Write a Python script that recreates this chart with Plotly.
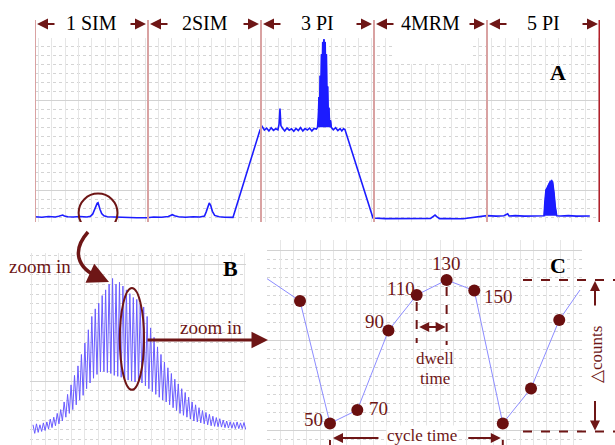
import plotly.graph_objects as go

W, H = 615, 445
def PX(x): return x / W
def PY(y): return 1 - y / H

DARK = "#6e1616"
BLUE = "#1c1cff"
SERIF = "Liberation Serif, Times New Roman, serif"

# ---------------- Panel A : full run (time units, counts) ----------------
A_labels = ["1 SIM", "2SIM", "3 PI", "4MRM", "5 PI"]
A_bounds = [0, 10, 20, 30, 40, 50]

A1_x = [0, 0.6, 1.2, 1.8, 2.1, 2.3, 2.45, 2.6, 2.9, 3.4, 4.0, 4.6, 4.9, 5.1, 5.25, 5.4, 5.5,
        5.58, 5.66, 5.75, 5.9, 6.1, 6.4, 6.9, 7.6, 8.3, 9.0, 9.91]
A1_y = [0.8, 0.5, 0.9, 0.6, 1.0, 1.4, 1.7, 1.2, 0.8, 0.6, 0.9, 0.6, 1.0, 2.2, 4.5, 7.0, 8.3,
        8.6, 7.4, 5.0, 2.6, 1.3, 0.8, 0.6, 0.4, 0.3, 0.2, 0.2]

A2_x = [10.5, 11.2, 11.8, 12.0, 12.15, 12.35, 12.7, 13.3, 14.0, 14.6, 15.0, 15.15, 15.3, 15.42,
        15.55, 15.7, 15.9, 16.3, 16.8, 17.52, 19.91]
A2_y = [0.6, 0.5, 0.9, 1.5, 1.9, 1.3, 0.8, 0.5, 0.8, 0.6, 1.2, 3.5, 6.5, 8.5, 7.0, 3.8, 1.5, 0.8,
        0.5, 0.4, 49.5]

A3_x = [20.1, 20.3, 20.5, 20.7, 20.9, 21.1, 21.3, 21.5, 21.6, 21.68, 21.76, 21.9, 22.1, 22.3,
        22.5, 22.7, 22.9, 23.1, 23.3, 23.5, 23.7, 23.9, 24.1, 24.3, 24.5, 24.7, 24.9]
A3_y = [51.5, 49.5, 50.5, 49.0, 50.8, 49.3, 50.2, 49.6, 53, 61.5, 52, 50.5, 49.0, 50.6,
        49.4, 50.2, 48.8, 50.4, 49.2, 50.8, 49.0, 50.3, 49.5, 50.6, 49.0, 50.4, 50.0]
A3_peak_x = [25.0, 25.07, 25.13, 25.18, 25.24, 25.29, 25.35, 25.4, 25.46, 25.51, 25.57, 25.62,
             25.68, 25.73, 25.79, 25.84, 25.9, 25.95, 26.01, 26.07, 26.15, 26.22]
A3_peak_y = [51, 56, 68, 60, 80, 66, 92, 75, 99, 82, 100.5, 85,
             99, 78, 92, 66, 74, 58, 62, 53, 55, 51]
A3_tail_x = [26.4, 26.6, 26.8, 27.0, 27.15, 27.3, 27.43, 29.91]
A3_tail_y = [49.6, 50.8, 49.2, 50.3, 49.0, 50.2, 49.8, 0.0]

A4_x = [31.0, 32.5, 34.0, 35.0, 35.25, 35.4, 35.55, 35.8, 36.5, 37.88, 40.0]
A4_y = [-0.3, -0.2, -0.3, -0.2, 1.0, 1.7, 0.8, -0.3, -0.3, -0.4, 1.4]

A5_x = [40.8, 41.5, 41.7, 41.83, 41.95, 42.5, 43.3, 44.0, 44.6, 45.0]
A5_y = [1.1, 1.3, 2.0, 2.4, 1.2, 1.4, 1.1, 1.3, 1.2, 1.3]
A5_peak_x = [45.05, 45.12, 45.22, 45.32, 45.42, 45.52, 45.6, 45.66, 45.73, 45.81, 45.87, 45.93,
             46.04, 46.17]
A5_peak_y = [1.3, 9.0, 15.8, 17.0, 18.6, 19.2, 20.6, 20.4, 21.0, 20.0, 17.5, 14.0, 6.4, 1.3]
A5_tail_x = [46.5, 47.2, 47.9, 48.5, 49.1]
A5_tail_y = [1.2, 1.4, 1.1, 1.3, 1.2]

# ---------------- Panel B : zoomed peak (cycle index, counts) ----------------
B_peaks = [8, 8.5, 8, 9, 9.5, 11, 12, 14, 16, 20, 24, 29, 34, 39, 45, 51, 58, 65, 69, 72,
           76, 79, 82, 85, 82, 83, 81, 79, 77, 75, 74, 72, 70, 65, 59, 54, 49, 45, 41, 38,
           35, 32, 29.5, 27, 25, 22.5, 20, 18.5, 17, 15.5, 14.5, 13.5, 12.5, 11.8, 11.2, 10.5,
           10, 9.6, 9.2, 9.5, 9, 9.2]
B_troughs = [3.5, 4, 4.5, 5, 5.8, 6.5, 7.5, 8.5, 10, 12, 14, 16, 18.5, 21, 23.5, 27, 30, 32.5,
             34.5, 35.8, 36, 35.5, 35, 34, 33.5, 33, 32.5, 31.5, 31, 30.5, 30, 30, 28.5, 27,
             25.5, 24, 22.5, 21, 20, 18.5, 17, 15.5, 14, 13, 12, 11, 10, 9.5, 9, 8.5, 8, 7.5,
             7.2, 7, 6.8, 6.5, 6.3, 6.2, 6, 6, 6, 5.5]

# ---------------- Panel C : individual scans (time, counts) ----------------
C_x = [0, 1.04, 1.99, 3.07, 4.05, 5.09, 6.05, 7.04, 8.02, 9.0]
C_y = [72, 10.8, 17.5, 57.2, 75, 82.5, 77.2, 10.8, 28.3, 62.5]
C_start = (-1.16, 83.3)
C_end = (9.72, 77.5)
C_labels = ["", "50", "70", "90", "110", "130", "150", "", "", ""]
C_label_shift = [(0, 0), (-16, 4), (21, 2), (-14, 9), (-16, 7), (0, 17), (24, -6), (0, 0), (0, 0), (0, 0)]

# ---------------- build figure ----------------
fig = go.Figure()

A_x = A1_x + A2_x + A3_x + A3_peak_x + A3_tail_x + A4_x + A5_x + A5_peak_x + A5_tail_x
A_y = A1_y + A2_y + A3_y + A3_peak_y + A3_tail_y + A4_y + A5_y + A5_peak_y + A5_tail_y
fig.add_trace(go.Scatter(x=A_x, y=A_y, mode="lines", line=dict(color=BLUE, width=1.6),
                         xaxis="x", yaxis="y", hoverinfo="skip"))
for px_, py_ in [(A3_peak_x, A3_peak_y), (A5_peak_x, A5_peak_y)]:
    fig.add_trace(go.Scatter(x=px_, y=py_, mode="lines", fill="toself",
                             fillcolor=BLUE, line=dict(color=BLUE, width=1),
                             xaxis="x", yaxis="y", hoverinfo="skip"))

B_x, B_y = [], []
for i, (p, t) in enumerate(zip(B_peaks, B_troughs)):
    B_x += [i, i + 0.5]
    B_y += [p, t]
fig.add_trace(go.Scatter(x=B_x, y=B_y, mode="lines", line=dict(color="#6a5cff", width=1),
                         xaxis="x2", yaxis="y2", hoverinfo="skip"))

fig.add_trace(go.Scatter(x=[C_start[0]] + C_x + [C_end[0]], y=[C_start[1]] + C_y + [C_end[1]],
                         mode="lines", line=dict(color="#8c8cff", width=1),
                         xaxis="x3", yaxis="y3", hoverinfo="skip"))
fig.add_trace(go.Scatter(x=C_x, y=C_y, mode="markers",
                         marker=dict(color="#6a0f0f", size=12),
                         xaxis="x3", yaxis="y3", hoverinfo="skip"))

def ax_style(domain, rng, tick0, dtick, grid="#e6e6e6"):
    return dict(domain=domain, range=rng, tick0=tick0, dtick=dtick, showgrid=True,
                gridcolor=grid, gridwidth=1, showticklabels=False, ticks="",
                zeroline=False, showline=False, fixedrange=True)

def y_style(domain, rng, tick0, dtick, mdtick):
    d = ax_style(domain, rng, tick0, dtick, grid="#d2d2d2")
    d["minor"] = dict(tick0=tick0, dtick=mdtick, showgrid=True, gridcolor="#d4d4d4",
                      griddash="dot", gridwidth=1)
    return d

shapes = []
annotations = []

def text_ann(x, y, text, size=19, color=DARK, xref="paper", yref="paper", **kw):
    d = dict(x=x, y=y, xref=xref, yref=yref, text=text, showarrow=False,
             xanchor="center", yanchor="middle",
             font=dict(family=SERIF, size=size, color=color))
    d.update(kw)
    annotations.append(d)

def arrow_ann(x, y, ax, ay, xref="paper", yref="paper", width=2, size=1.0, **kw):
    d = dict(x=x, y=y, xref=xref, yref=yref, ax=ax, ay=ay, text="", showarrow=True,
             arrowhead=2, arrowsize=size, arrowwidth=width, arrowcolor=DARK, standoff=0)
    d.update(kw)
    annotations.append(d)

# Panel A boundaries
for k, b in enumerate(A_bounds):
    last = k == len(A_bounds) - 1
    shapes.append(dict(type="line", xref="x", yref="paper", x0=b, x1=b,
                       y0=PY(222), y1=PY(20),
                       line=dict(color="#b3202a" if last else "#d9a2a2", width=3 if last else 2)))
# white patch behind 4MRM label
shapes.append(dict(type="rect", xref="paper", yref="paper", x0=PX(393), x1=PX(473),
                   y0=PY(64), y1=PY(30), fillcolor="white", line=dict(width=0), layer="above"))

for k, lab in enumerate(A_labels):
    l, r = A_bounds[k], A_bounds[k + 1]
    text_ann((l + r) / 2, PY(23), lab, size=20, color="black", xref="x")
    arrow_ann(l, PY(24), 21, 0, xref="x", size=1.1, standoff=2)
    arrow_ann(r, PY(24), -19, 0, xref="x", size=1.1, standoff=2)

# circle around SIM peak
pk = A1_y.index(max(A1_y))
cx, cy = A1_x[pk], 2.9
shapes.append(dict(type="circle", xref="x", yref="y", x0=cx - 1.72, x1=cx + 1.72,
                   y0=cy - 10.9, y1=cy + 10.9, line=dict(color=DARK, width=2)))
# curved arrow to panel B
def P(x, y): return f"{PX(x)},{PY(y)}"
shapes.append(dict(type="path", xref="paper", yref="paper",
                   path=f"M {P(88,232)} C {P(72,250)} {P(76,268)} {P(100,278)}",
                   line=dict(color=DARK, width=3.5)))
arrow_ann(PX(109), PY(282), -11, -5, width=3.5, size=1.2)
text_ann(PX(40), PY(266), "zoom in")

# Panel B ellipse and arrow
shapes.append(dict(type="circle", xref="x2", yref="y2", x0=28.6 - 3.5, x1=28.6 + 3.5,
                   y0=53.2 - 26.8, y1=53.2 + 26.8, line=dict(color=DARK, width=2)))
arrow_ann(PX(268), PY(340), -122, 0, width=3, size=1.1)
text_ann(PX(211), PY(327), "zoom in")

# Panel letters
for lab, x, y in [("A", 558, 72), ("B", 230, 268), ("C", 558, 265)]:
    text_ann(PX(x), PY(y), f"<b>{lab}</b>", size=22, color="black")

# Panel C point labels
for xv, yv, lab, (dx, dy) in zip(C_x, C_y, C_labels, C_label_shift):
    if lab:
        text_ann(xv, yv, lab, xref="x3", yref="y3", xshift=dx, yshift=dy)

dash = dict(color=DARK, width=2, dash="dash")
# dwell time
for k, ylow in [(4, 51), (5, 50)]:
    shapes.append(dict(type="line", xref="x3", yref="y3", x0=C_x[k], x1=C_x[k],
                       y0=C_y[k] - 3.5, y1=ylow, line=dash))
arrow_ann(C_x[5], 59, C_x[4], 59, xref="x3", yref="y3", axref="x3", ayref="y3",
          arrowside="end+start", standoff=1, startstandoff=1)
midd = (C_x[4] + C_x[5]) / 2 + 0.1
text_ann(midd, 43.5, "dwell", size=17, xref="x3", yref="y3")
text_ann(midd, 33.5, "time", size=17, xref="x3", yref="y3")

# delta counts
ytop, ybot = max(C_y), min(C_y) - 4
for yy in (ytop, ybot):
    shapes.append(dict(type="line", xref="paper", yref="y3", x0=PX(523), x1=1.0, y0=yy, y1=yy,
                       line=dash))
arrow_ann(PX(595), ytop, 0, 27, yref="y3", standoff=1)
arrow_ann(PX(595), ybot, 0, -32, yref="y3", standoff=1)
text_ann(PX(596), 45, "△counts", size=17, yref="y3", textangle=-90)

# cycle time
for k in (1, 7):
    shapes.append(dict(type="line", xref="x3", yref="y3", x0=C_x[k], x1=C_x[k], y0=-2,
                       y1=ybot, line=dash))
arrow_ann(C_x[1], 3.5, 50, 0, xref="x3", yref="y3", standoff=3)
arrow_ann(C_x[7], 3.5, -36, 0, xref="x3", yref="y3", standoff=2)
text_ann((C_x[1] + C_x[7]) / 2 + 0.2, 5.0, "cycle time", size=17, xref="x3", yref="y3",
         bgcolor="white", borderpad=0)

fig.update_layout(
    width=W, height=H, margin=dict(l=0, r=0, t=0, b=0), showlegend=False,
    paper_bgcolor="white", plot_bgcolor="white",
    xaxis=ax_style([PX(35), PX(600)], [0, 50], 1.478, 1.18),
    yaxis=y_style([PY(222), PY(38)], [-2.19, 101.2], 15.79, 50.56, 5.056),
    xaxis2=dict(ax_style([PX(30), PX(246)], [-0.867, 61.58], 3.47, 3.854), anchor="y2"),
    yaxis2=dict(y_style([0, PY(253)], [-2.63, 98.4], 92.1, 61.2, 5.1), anchor="x2"),
    xaxis3=dict(ax_style([PX(267), PX(582)], [-1.146, 9.79], -0.694, 0.463), anchor="y3"),
    yaxis3=dict(y_style([0, PY(240)], [0, 102.5], 52.5, 45, 4.5), anchor="x3"),
    shapes=shapes, annotations=annotations,
)

fig.write_html("out.html")
